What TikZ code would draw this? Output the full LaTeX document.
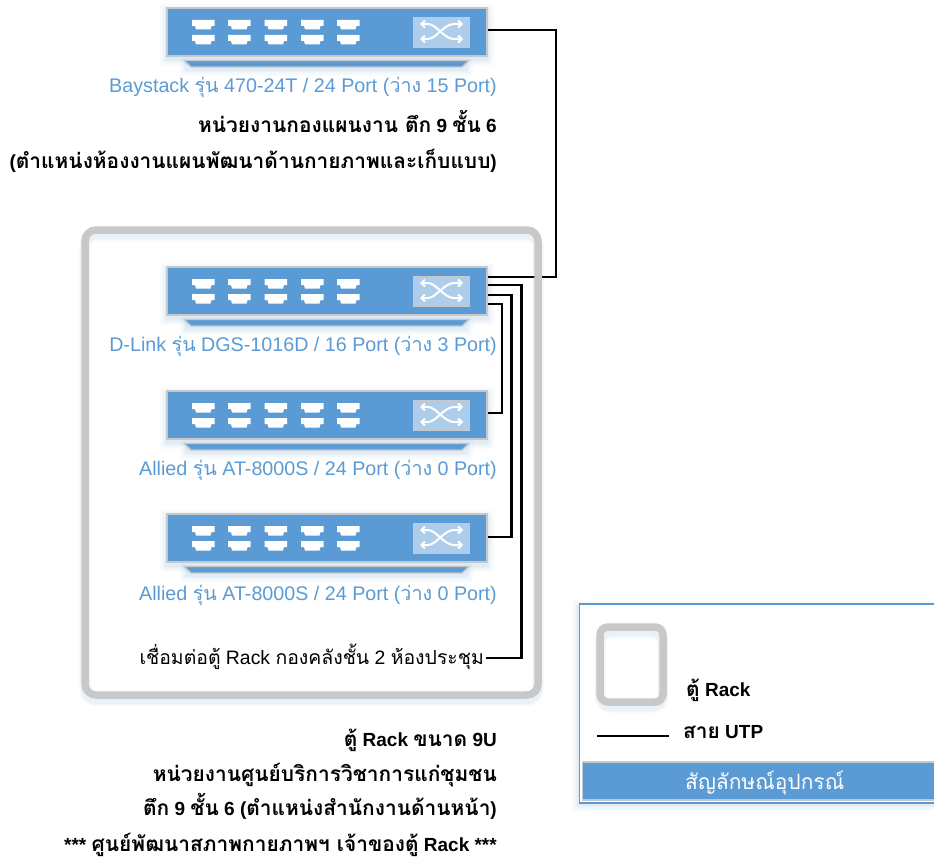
\documentclass[tikz,border=0pt]{standalone}
\usepackage{fontspec}
\setmainfont{Liberation Sans}
\newfontfamily\thaifont[Script=Thai,BoldFeatures={Scale=1.1}]{Loma}
\usetikzlibrary{arrows.meta}
\definecolor{swblue}{HTML}{5B9BD5}
\definecolor{iconblue}{HTML}{ADCDEA}
\definecolor{rackgray}{HTML}{C8C8C8}
\newcommand{\T}[1]{{\thaifont #1}}
\newcommand{\softbox}[4]{%
  \foreach \r/\o in {6/.03,4/.04,2/.05,1/.06}{
    \fill[swblue,opacity=\o,rounded corners=2pt] (#1-\r,#2+3-\r) rectangle (#3+\r,#4+3+\r);
  }}
\newcommand{\softring}[4]{%
  \foreach \r/\o in {12/.03,10/.04,8.5/.05}{
    \draw[swblue,opacity=\o,line width=\r pt,rounded corners=11pt] (#1,#2+5) rectangle (#3,#4+5);
  }}
\newcommand{\swport}[2]{%
  \fill[white] (#1,#2) -- ++(22.5,0) -- ++(0,6) -- ++(-3,0) -- ++(-1,3.5) -- ++(-14.5,0) -- ++(-1,-3.5) -- ++(-3,0) -- cycle;}
\newcommand{\swunit}[3]{%
  \softbox{166}{#2}{488}{#2+50}
  \softbox{186}{#2+53}{467}{#2+60}
  \draw[rackgray,line width=1.4pt,fill=swblue,line join=round] (184,#2+53.5) -- (469,#2+53.5) -- (462,#2+60) -- (191,#2+60) -- cycle;
  \node[switchbody] (#1) at (327,#2+25) {};
  \foreach \px in {192,228,264.5,301,337}{
    \swport{\px}{#2+13}
    \swport{\px}{#2+28}
  }
  \node[iconbox] (#1-icon) at (441.5,#2+25.5) {};
  \draw[switcharrow] (420,#2+17) -- (428,#2+17) .. controls (436,#2+17) and (444,#2+32) .. (454,#2+32) -- (463,#2+32);
  \draw[switcharrow] (420,#2+32) -- (428,#2+32) .. controls (436,#2+32) and (444,#2+17) .. (454,#2+17) -- (463,#2+17);
  \coordinate (#1-a) at (488,#2+11);
  \coordinate (#1-b) at (488,#2+19);
  \coordinate (#1-c) at (488,#2+29);
  \coordinate (#1-d) at (488,#2+38);
  \coordinate (#1-e) at (488,#2+#3);
}
\tikzset{
  x=1pt,y=-1pt,
  switchbody/.style={draw=rackgray,fill=swblue,line width=2pt,minimum width=320pt,minimum height=48pt,inner sep=0pt},
  iconbox/.style={draw=rackgray,fill=iconblue,line width=1.4pt,minimum width=56pt,minimum height=30pt,inner sep=0pt},
  switcharrow/.style={white,line width=2pt,line join=round,{Straight Barb[length=3.5pt,width=7pt]}-{Straight Barb[length=3.5pt,width=7pt]}},
  utp/.style={black,line width=2.2pt,line join=miter},
  rackring/.style={rackgray,line width=7.5pt,rounded corners=11pt},
  swlabel/.style={anchor=base east,inner sep=0pt,text=swblue,font=\fontsize{19.7}{22}\selectfont},
  blacklabel/.style={anchor=base east,inner sep=0pt,text=black,font=\fontsize{19.4}{22}\selectfont},
  boldlabel/.style={anchor=base east,inner sep=0pt,text=black,font=\fontsize{19}{22}\selectfont\bfseries},
  legendlabel/.style={anchor=base west,inner sep=0pt,text=black,font=\fontsize{19}{22}\selectfont\bfseries},
}
\begin{document}
\begin{tikzpicture}
\clip (0,0) rectangle (934,864);
\fill[white] (0,0) rectangle (934,864);

% switches
\swunit{bay}{7}{23}
\swunit{dlink}{266}{23}
\swunit{alliedA}{390}{23}
\swunit{alliedB}{513}{24}

% uplink passes behind the rack outline
\coordinate (upturn) at (556,30);
\draw[utp] (bay-e) -- (upturn) |- (dlink-a);

% rack
\softring{85}{230}{538}{695}
\draw[rackring] (85,230) rectangle (538,695);

% labels
\node[swlabel] at (497,93) {Baystack \T{รุ่น} 470-24T / 24 Port (\T{ว่าง} 15 Port)};
\node[boldlabel] at (497,132) {\T{หน่วยงานกองแผนงาน ตึก} 9 \T{ชั้น} 6};
\node[boldlabel] at (497,168) {(\T{ตำแหน่งห้องงานแผนพัฒนาด้านกายภาพและเก็บแบบ})};
\node[swlabel] at (497,351) {D-Link \T{รุ่น} DGS-1016D / 16 Port (\T{ว่าง} 3 Port)};
\node[swlabel] at (497,475) {Allied \T{รุ่น} AT-8000S / 24 Port (\T{ว่าง} 0 Port)};
\node[swlabel] at (497,600) {Allied \T{รุ่น} AT-8000S / 24 Port (\T{ว่าง} 0 Port)};
\node[blacklabel] (cab) at (484,664) {\T{เชื่อมต่อตู้} Rack \T{กองคลังชั้น} 2 \T{ห้องประชุม}};
\coordinate (cabend) at (486,658);
\node[boldlabel] at (497,746) {\T{ตู้} Rack \T{ขนาด} 9U};
\node[boldlabel] at (497,781) {\T{หน่วยงานศูนย์บริการวิชาการแก่ชุมชน}};
\node[boldlabel] at (497,815) {\T{ตึก} 9 \T{ชั้น} 6 (\T{ตำแหน่งสำนักงานด้านหน้า})};
\node[boldlabel] at (497,851) {*** \T{ศูนย์พัฒนาสภาพกายภาพฯ เจ้าของตู้} Rack ***};

% connectors inside the rack
\coordinate (turnb) at (521.5,658);
\coordinate (turnc) at (511.5,285);
\coordinate (turnd) at (502,285);
\draw[utp] (dlink-b) -| (turnb) -- (cabend);
\draw[utp] (dlink-c) -| (turnc |- alliedB-e) -- (alliedB-e);
\draw[utp] (dlink-d) -| (turnd |- alliedA-e) -- (alliedA-e);

% legend
\softbox{578}{603}{950}{802}
\node[draw=swblue,fill=white,line width=1.5pt,minimum width=400pt,minimum height=199pt,inner sep=0pt,anchor=north west] (legend) at (578.5,603) {};
\node[draw=rackgray,fill=swblue,line width=1.5pt,minimum width=400pt,minimum height=38pt,inner sep=0pt,anchor=north west] (legendbar) at (581.5,761) {};
\softring{600}{627}{663}{702}
\draw[rackring,line width=7.5pt,rounded corners=8pt] (600,627) rectangle (663,702);
\coordinate (utpa) at (597,736);
\coordinate (utpb) at (669,736);
\draw[utp] (utpa) -- (utpb);
\node[legendlabel] at (686,696) {\T{ตู้} Rack};
\node[legendlabel] at (683,738) {\T{สาย} UTP};
\node[anchor=base west,inner sep=0pt,text=white,font=\fontsize{21}{24}\selectfont] at (685,789) {\T{สัญลักษณ์อุปกรณ์}};
\end{tikzpicture}
\end{document}
